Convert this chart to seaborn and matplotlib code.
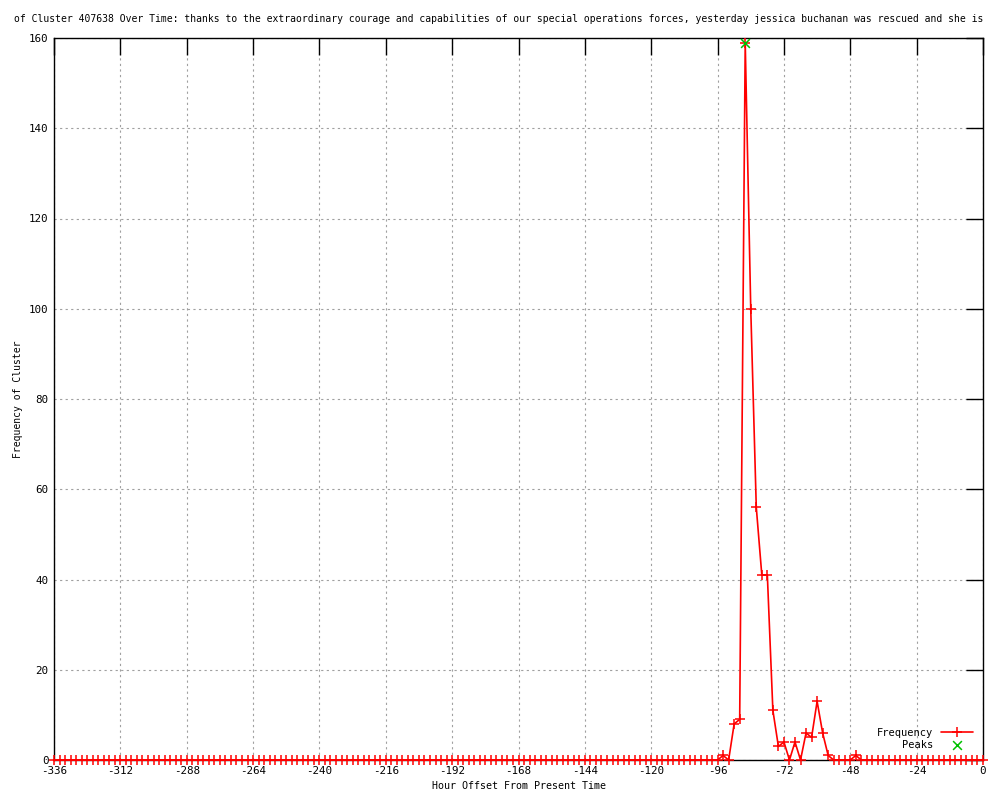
import pandas as pd
import matplotlib
matplotlib.use("Agg")
import matplotlib.pyplot as plt
import seaborn as sns

# hourly buckets every 2 hours, most of them empty
hours = list(range(-336, 1, 2))
active_hours = [-94, -90, -88, -86, -84, -82, -80, -78, -76, -74, -72,
                -68, -64, -62, -60, -58, -56, -46]
active_counts = [1, 8, 9, 159, 100, 56, 41, 41, 11, 3, 4,
                 4, 6, 5, 13, 6, 1, 1]
peak_hours = [-86]
peak_counts = [159]

lookup = dict(zip(active_hours, active_counts))
freq = pd.DataFrame({"hour": hours, "count": [lookup.get(h, 0) for h in hours]})
peaks = pd.DataFrame({"hour": peak_hours, "count": peak_counts})

sns.set_style("white")
plt.rcParams["font.family"] = ["DejaVu Sans Mono"]
plt.rcParams["font.size"] = 7.5
plt.rcParams["axes.unicode_minus"] = False
plt.rcParams["text.color"] = "black"
plt.rcParams["axes.labelcolor"] = "black"
plt.rcParams["xtick.color"] = "black"
plt.rcParams["ytick.color"] = "black"

fig, ax = plt.subplots(figsize=(10, 8), dpi=100)
fig.subplots_adjust(left=0.054, right=0.983, top=0.9525, bottom=0.05)

sns.lineplot(data=freq, x="hour", y="count", ax=ax, color="#ff0000", linewidth=1.2,
             marker="+", markersize=7, markeredgewidth=1.1, markeredgecolor="#ff0000",
             label="Frequency", clip_on=False, zorder=4)
sns.scatterplot(data=peaks, x="hour", y="count", ax=ax, color="#00c000", marker="x",
                s=40, linewidth=1.1, label="Peaks", zorder=5, clip_on=False)

ax.set_xlim(-336, 0)
ax.set_ylim(0, 160)
ax.set_xticks(range(-336, 1, 24))
ax.set_yticks(range(0, 161, 20))
ax.grid(True, color="#a0a0a0", linestyle=(0, (2, 3)), linewidth=0.8)
ax.tick_params(direction="in", length=12, width=1, top=True, right=True,
               labelsize=7.8, pad=4)
for s in ax.spines.values():
    s.set_color("black")
    s.set_linewidth(1)
    s.set_zorder(3)

ax.set_xlabel("Hour Offset From Present Time", fontsize=7.2)
ax.set_ylabel("Frequency of Cluster", fontsize=7.0)

fig.text(0.499, 0.976,
         "of Cluster 407638 Over Time: thanks to the extraordinary courage and capabilities "
         "of our special operations forces, yesterday jessica buchanan was rescued and she is",
         ha="center", va="center", fontsize=7.0)

leg = ax.legend(loc="lower right", frameon=False, markerfirst=False, fontsize=7.5,
                handlelength=3, borderaxespad=0.6, labelspacing=0.2,
                alignment="right")
for t in leg.get_texts():
    t.set_ha("right")

fig.savefig("out.png", dpi=100)
